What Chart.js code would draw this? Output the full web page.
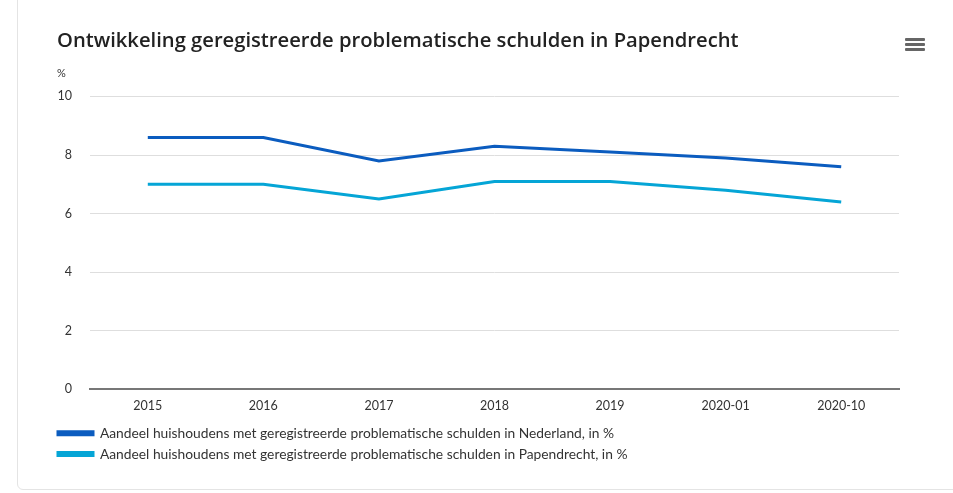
<!DOCTYPE html>
<html>
<head>
<meta charset="utf-8">
<script src="https://cdn.jsdelivr.net/npm/chart.js@4"></script>
<style>
    html, body { margin: 0; padding: 0; background: #fff; }
    body { width: 953px; height: 493px; position: relative; overflow: hidden; }
    .card {
        position: absolute; left: 17px; top: -6px; width: 960px; height: 496px;
        border: 1px solid #e4e4e4; border-radius: 6px; box-sizing: border-box;
    }
    #chart { position: absolute; left: 0; top: 0; }
    .menu { position: absolute; left: 905px; top: 38px; width: 20px; }
    .menu div { height: 3px; background: #666; margin-bottom: 2px; border-radius: 1px; }
</style>
</head>
<body>
<div class="card"></div>
<canvas id="chart" width="953" height="493"></canvas>
<div class="menu"><div></div><div></div><div></div></div>
<script>
// Chart data
const categories = ['2015', '2016', '2017', '2018', '2019', '2020-01', '2020-10'];
const nederland = [8.6, 8.6, 7.8, 8.3, 8.1, 7.9, 7.6];
const papendrecht = [7.0, 7.0, 6.5, 7.1, 7.1, 6.8, 6.4];
const yTicks = [0, 2, 4, 6, 8, 10];

const labelFont = { family: 'Lato', size: 12.5 };

// nudge the legend up/left so the swatches line up with the title
const legendShift = {
    id: 'legendShift',
    beforeDraw(chart) {
        if (!chart.legend._shifted) {
            chart.legend.left -= 6;
            chart.legend.top -= 3;
            chart.legend._shifted = true;
        }
    },
    afterUpdate(chart) { chart.legend._shifted = false; }
};

const ctx = document.getElementById('chart').getContext('2d');
window.debtChart = new Chart(ctx, {
    type: 'line',
    data: {
        labels: categories,
        datasets: [{
            label: 'Aandeel huishoudens met geregistreerde problematische schulden in Nederland, in %',
            data: nederland,
            borderColor: '#0b5cbf',
            backgroundColor: '#0b5cbf',
            borderWidth: 3,
            pointRadius: 0,
            tension: 0
        }, {
            label: 'Aandeel huishoudens met geregistreerde problematische schulden in Papendrecht, in %',
            data: papendrecht,
            borderColor: '#05a5d6',
            backgroundColor: '#05a5d6',
            borderWidth: 3,
            pointRadius: 0,
            tension: 0
        }]
    },
    plugins: [legendShift],
    options: {
        responsive: false,
        animation: false,
        layout: { padding: { left: 57, right: 54, top: 29, bottom: 19 } },
        plugins: {
            title: {
                display: true,
                text: 'Ontwikkeling geregistreerde problematische schulden in Papendrecht',
                align: 'start',
                color: '#222',
                font: { family: 'Open Sans', size: 20.2, weight: '600' },
                padding: { top: 0, bottom: 14 }
            },
            subtitle: {
                display: true,
                text: '%',
                align: 'start',
                color: '#333',
                font: { family: 'Lato', size: 11 },
                padding: { top: 0, bottom: 16 }
            },
            legend: {
                position: 'bottom',
                align: 'start',
                labels: {
                    boxWidth: 35,
                    boxHeight: 3,
                    padding: 7,
                    color: '#333',
                    font: { family: 'Lato', size: 13.8 }
                }
            },
            tooltip: { enabled: false }
        },
        scales: {
            x: {
                offset: true,
                grid: { display: false, drawTicks: false },
                border: { display: true, color: '#777', width: 2 },
                ticks: { color: '#333', font: labelFont, padding: 9, maxRotation: 0 }
            },
            y: {
                min: 0,
                max: 10,
                afterBuildTicks: axis => { axis.ticks = yTicks.map(v => ({ value: v })); },
                afterFit: axis => { axis.width = 33; },
                grid: { color: '#dedede', drawTicks: false },
                border: { display: false },
                ticks: { color: '#333', font: labelFont, padding: 18 }
            }
        }
    }
});
</script>
</body>
</html>
